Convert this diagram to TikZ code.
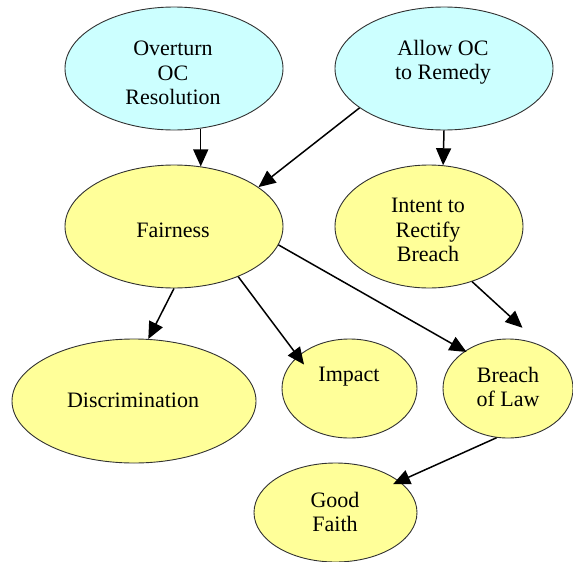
\documentclass[tikz,border=0pt]{standalone}
\usepackage{fontspec}
\setmainfont{Liberation Serif}
\usetikzlibrary{shapes.geometric,arrows.meta}
\definecolor{cyanfill}{RGB}{204,255,255}
\definecolor{yellowfill}{RGB}{255,255,153}
\definecolor{edgegray}{RGB}{50,50,50}
\tikzset{
  ell/.style={ellipse, draw=edgegray, line width=0.9pt, inner sep=0pt},
  cyanell/.style={ell, fill=cyanfill},
  yelell/.style={ell, fill=yellowfill},
  txt/.style={font={\fontsize{22}{24.5}\selectfont}, align=center, anchor=north, inner sep=0pt, text=black},
  arr/.style={-{Triangle[length=17pt,width=15pt]}, line width=1.5pt, black}
}
\begin{document}
\begin{tikzpicture}[x=1pt,y=-1pt]
\useasboundingbox (0,0) rectangle (573,562);
% ellipses
\node[cyanell, minimum width=218pt, minimum height=123pt] (ov) at (174,68.5) {};
\node[cyanell, minimum width=218pt, minimum height=123pt] (al) at (444,68.5) {};
\node[yelell, minimum width=218pt, minimum height=123pt] (fa) at (174,226.5) {};
\node[yelell, minimum width=188pt, minimum height=123pt] (in) at (429,226.5) {};
\node[yelell, minimum width=244pt, minimum height=124pt] (di) at (134,401) {};
\node[yelell, minimum width=135pt, minimum height=99pt] (im) at (349.5,388.5) {};
\node[yelell, minimum width=130pt, minimum height=99pt] (br) at (508,388.5) {};
\node[yelell, minimum width=163pt, minimum height=99pt] (gf) at (335.5,512.5) {};
% texts
\node[txt] (ovt) at (173,41) {Overturn\\OC\\Resolution};
\node[txt] (alt) at (443,40) {Allow OC\\to Remedy};
\node[txt] (fat) at (173,223) {Fairness};
\node[txt] (int) at (428,198) {Intent to\\Rectify\\Breach};
\node[txt] (dit) at (133,393) {Discrimination};
\node[txt] (imt) at (349,367) {Impact};
\node[txt] (brt) at (508,367) {Breach\\of Law};
\node[txt] (gft) at (335,492) {Good\\Faith};
% connectors
\draw[arr] (ov.-66) -- (fa.66);
\draw[arr] (al.205.2) -- (fa.25.7);
\draw[arr] (al.south) -- (in.77.2);
\draw[arr] (fa.south) -- (di.77.5);
\draw[arr, shorten >=-10.5pt] (fa.-38.4) -- (im.148);
\draw[arr, shorten >=-2pt] (fa.-10.2) -- (br.139);
\draw[arr, shorten >=27pt] (in.-52.2) -- (br.51);
\draw[arr, shorten >=-7pt] (br.-103.3) -- (gf.26.8);
\end{tikzpicture}
\end{document}
